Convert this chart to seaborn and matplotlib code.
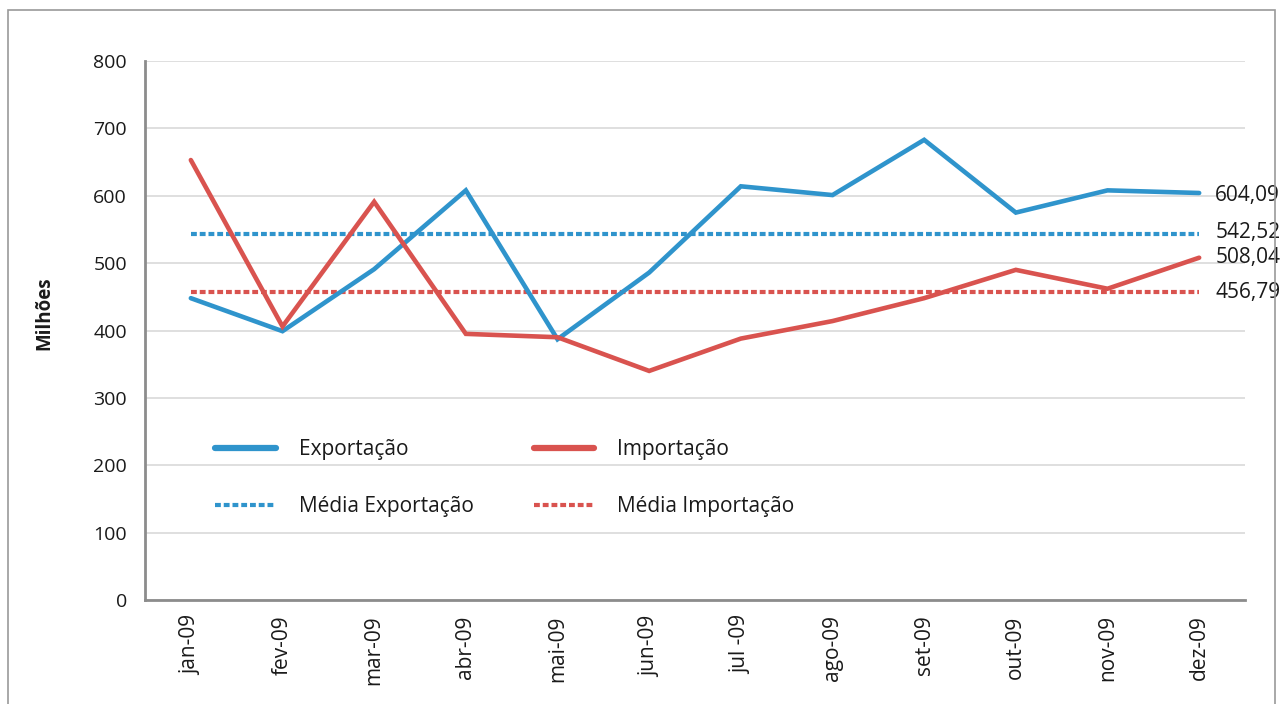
import matplotlib
matplotlib.use("Agg")
import matplotlib.pyplot as plt
import seaborn as sns
import pandas as pd
from matplotlib.patches import Rectangle
from matplotlib.lines import Line2D

# Data (milhões)
MONTHS = ["jan-09", "fev-09", "mar-09", "abr-09", "mai-09", "jun-09",
          "jul -09", "ago-09", "set-09", "out-09", "nov-09", "dez-09"]
EXPORTACAO = [448, 399, 491, 608, 387, 486, 614, 601, 683, 575, 608, 604.09]
IMPORTACAO = [653, 406, 591, 395, 390, 340, 388, 414, 448, 490, 462, 508.04]
MEDIA_EXP = 542.52
MEDIA_IMP = 456.79

BLUE = "#2F94CC"
RED = "#D9534F"
GRID = "#DCDCDC"
AXIS = "#8C8C8C"
TXT = "#1a1a1a"
FONT = ["Open Sans", "DejaVu Sans"]


def fmt(v):
    return f"{v:.2f}".replace(".", ",")


def make_chart():
    sns.set_style("white")
    plt.rcParams["font.family"] = FONT

    df = pd.DataFrame({
        "pos": range(len(MONTHS)),
        "exp": EXPORTACAO,
        "imp": IMPORTACAO,
        "mexp": [MEDIA_EXP] * len(MONTHS),
        "mimp": [MEDIA_IMP] * len(MONTHS),
    })

    fig = plt.figure(figsize=(12.81, 7.04), dpi=100)
    ax = fig.add_axes([145 / 1281, 1 - 600 / 704, 1100 / 1281, 539 / 704])

    # outer frame
    fig.patches.append(Rectangle((8 / 1281, -0.05), 1267 / 1281, 1.05 - 10 / 704,
                                 transform=fig.transFigure, fill=False,
                                 edgecolor="#9a9a9a", lw=1.2))

    dots = (0, (1.4, 0.7))
    sns.lineplot(data=df, x="pos", y="mexp", ax=ax, color=BLUE, lw=3,
                 linestyle=dots, zorder=3)
    sns.lineplot(data=df, x="pos", y="mimp", ax=ax, color=RED, lw=3,
                 linestyle=dots, zorder=3)
    sns.lineplot(data=df, x="pos", y="exp", ax=ax, color=BLUE, lw=3.3,
                 zorder=4, solid_joinstyle="miter")
    sns.lineplot(data=df, x="pos", y="imp", ax=ax, color=RED, lw=3.3,
                 zorder=4, solid_joinstyle="miter")

    ax.set_xlim(-0.5, len(MONTHS) - 0.5)
    ax.set_ylim(0, 800)
    ax.set_yticks(range(0, 801, 100))
    ax.set_yticklabels([str(v) for v in range(0, 801, 100)],
                       fontsize=14, color=TXT)
    ax.set_xticks(range(len(MONTHS)))
    ax.set_xticklabels(MONTHS, rotation=90, fontsize=15, color=TXT)
    ax.set_xticks([i - 0.5 for i in range(len(MONTHS) + 1)], minor=True)
    ax.tick_params(axis="x", which="major", length=0, pad=11)
    ax.tick_params(axis="x", which="minor", length=5, width=1.5, color=AXIS)
    ax.tick_params(axis="y", which="major", length=5, width=1.5, color=AXIS, pad=8)
    ax.set_xlabel("")
    ax.set_ylabel("")

    ax.grid(axis="y", color=GRID, lw=1.3)
    ax.set_axisbelow(True)
    for s in ["top", "right"]:
        ax.spines[s].set_visible(False)
    for s in ["left", "bottom"]:
        ax.spines[s].set_color(AXIS)
        ax.spines[s].set_linewidth(2)

    fig.text(44 / 1281, 1 - 313 / 704, "Milhões", rotation=90, fontsize=13.5,
             fontweight="bold", ha="center", va="center", color=TXT)

    # end labels
    last = len(MONTHS) - 1
    labels = [(EXPORTACAO[-1], -1.5), (MEDIA_EXP, 1.5), (IMPORTACAO[-1], 0), (MEDIA_IMP, 0)]
    for val, dy in labels:
        ax.annotate(fmt(val), xy=(last, val), xytext=(11.5, dy),
                    textcoords="offset points", fontsize=15, color=TXT,
                    va="center", ha="left", annotation_clip=False)

    handles = [
        Line2D([], [], color=BLUE, lw=4.5),
        Line2D([], [], color=BLUE, lw=3, linestyle=dots),
        Line2D([], [], color=RED, lw=4.5),
        Line2D([], [], color=RED, lw=3, linestyle=dots),
    ]
    names = ["Exportação", "Média Exportação", "Importação", "Média Importação"]
    leg = ax.legend(handles, names, ncol=2, frameon=False, loc="upper left",
                    bbox_to_anchor=(0.064, 0.298), fontsize=15, handlelength=2.9,
                    handletextpad=1.1, columnspacing=2.9, labelspacing=1.7,
                    borderpad=0, borderaxespad=0)
    for t in leg.get_texts():
        t.set_color(TXT)

    fig.savefig("out.png", dpi=100)


if __name__ == "__main__":
    make_chart()
